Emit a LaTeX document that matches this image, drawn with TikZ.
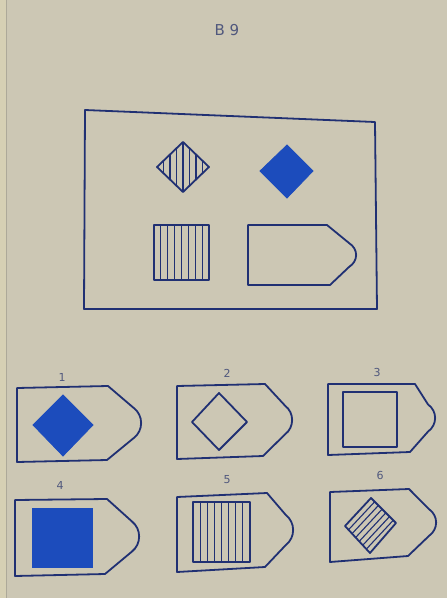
\documentclass[tikz,border=0pt]{standalone}
\usepackage{fontspec}
\setmainfont{DejaVu Sans}
\definecolor{paper}{RGB}{204,199,180}
\definecolor{binding}{RGB}{214,208,180}
\definecolor{ink}{RGB}{32,48,115}
\definecolor{bluefill}{RGB}{28,76,188}
\definecolor{txt}{RGB}{80,88,125}
% boat outline: L, top-left y, top-corner x, top-corner y, tip x, bottom-corner x, bottom-corner y, bottom-left y
\newcommand\boatshape[8]{%
  \pgfmathsetmacro\bm{(#4+#7)/2}%
  \pgfmathsetmacro\bn{0.2*(#7-#4)}%
  \draw[outl] (#1,#2) -- (#3,#4) -- ({#5-8},{\bm-\bn})
    .. controls ({#5+1.5},{\bm-\bn*0.5}) and ({#5+1.5},{\bm+\bn*0.5}) .. ({#5-8},{\bm+\bn})
    -- (#6,#7) -- (#1,#8) -- cycle;}
\tikzset{
  outl/.style={draw=ink,line width=1.8pt,line join=round},
  stripe/.style={draw=ink,line width=1.1pt},
  solidblue/.style={fill=bluefill,draw=bluefill,line width=0.8pt},
  lbl/.style={text=txt,font=\fontsize{11}{11}\selectfont,inner sep=0pt},
}
\begin{document}
\begin{tikzpicture}[x=1pt,y=-1pt]
\useasboundingbox (0,0) rectangle (447,598);
\fill[paper] (0,0) rectangle (447,598);
\fill[binding] (0,0) rectangle (6,598);
\draw[paper!85!black,line width=0.6pt] (6,0) -- (6,598);

% title
\node[text=txt,font=\fontsize{15}{15}\selectfont,inner sep=0pt] (title) at (227,30) {B 9};

% main frame
\draw[outl] (85,110) -- (375,122) -- (377,309) -- (84,309) -- cycle;

% striped diamond
\begin{scope}
  \clip (157,167) -- (183,142) -- (209,167) -- (183,192) -- cycle;
  \foreach \x in {163.5,170,176.5,183,189.5,196,202.5} \draw[stripe] (\x,140) -- (\x,195);
\end{scope}
\draw[outl] (157,167) -- (183,142) -- (209,167) -- (183,192) -- cycle;

% blue diamond
\fill[solidblue] (260,171) -- (287,145) -- (313,171) -- (287,198) -- cycle;

% striped square
\foreach \x in {160.9,167.8,174.6,181.5,188.4,195.2,202.1} \draw[stripe] (\x,225) -- (\x,280);
\draw[outl] (154,225) rectangle (209,280);

% boat in matrix
\boatshape{248}{225}{327}{225}{357}{330}{285}{285}

% option 1
\node[lbl] (l1) at (62,377) {1};
\boatshape{17}{388}{108}{386}{142}{107}{460}{462}
\fill[solidblue] (33,425) -- (63,395) -- (93,425) -- (63,456) -- cycle;

% option 2
\node[lbl] (l2) at (227,373) {2};
\boatshape{177}{386}{265}{384}{293}{263}{456}{459}
\draw[outl] (192,422) -- (219,393) -- (247,422) -- (219,450) -- cycle;

% option 3
\node[lbl] (l3) at (377,372) {3};
\boatshape{328}{384}{415}{384}{436}{410}{452}{455}
\draw[outl] (343,392) rectangle (397,447);

% option 4
\node[lbl] (l4) at (60,485) {4};
\boatshape{15}{500}{107}{499}{140}{105}{574}{576}
\fill[solidblue] (32,508) rectangle (92,567);

% option 5
\node[lbl] (l5) at (227,480) {5};
\boatshape{177}{497}{267}{493}{294}{265}{567}{572}
\foreach \x in {200.1,207.2,214.4,221.5,228.6,235.8,242.9} \draw[stripe] (\x,502) -- (\x,562);
\draw[outl] (193,502) rectangle (250,562);

% option 6
\node[lbl] (l6) at (380,475) {6};
\boatshape{330}{492}{409}{489}{437}{408}{556}{562}
\begin{scope}
  \clip (345,526) -- (371,498) -- (396,523) -- (370,553) -- cycle;
  \foreach \t in {1,...,6} {
    \pgfmathsetmacro\ax{345+\t/7*(370-345)}
    \pgfmathsetmacro\ay{526+\t/7*(553-526)}
    \draw[stripe] ({\ax-30},{\ay+32}) -- ({\ax+40},{\ay-43});
  }
\end{scope}
\draw[outl] (345,526) -- (371,498) -- (396,523) -- (370,553) -- cycle;
\end{tikzpicture}
\end{document}
